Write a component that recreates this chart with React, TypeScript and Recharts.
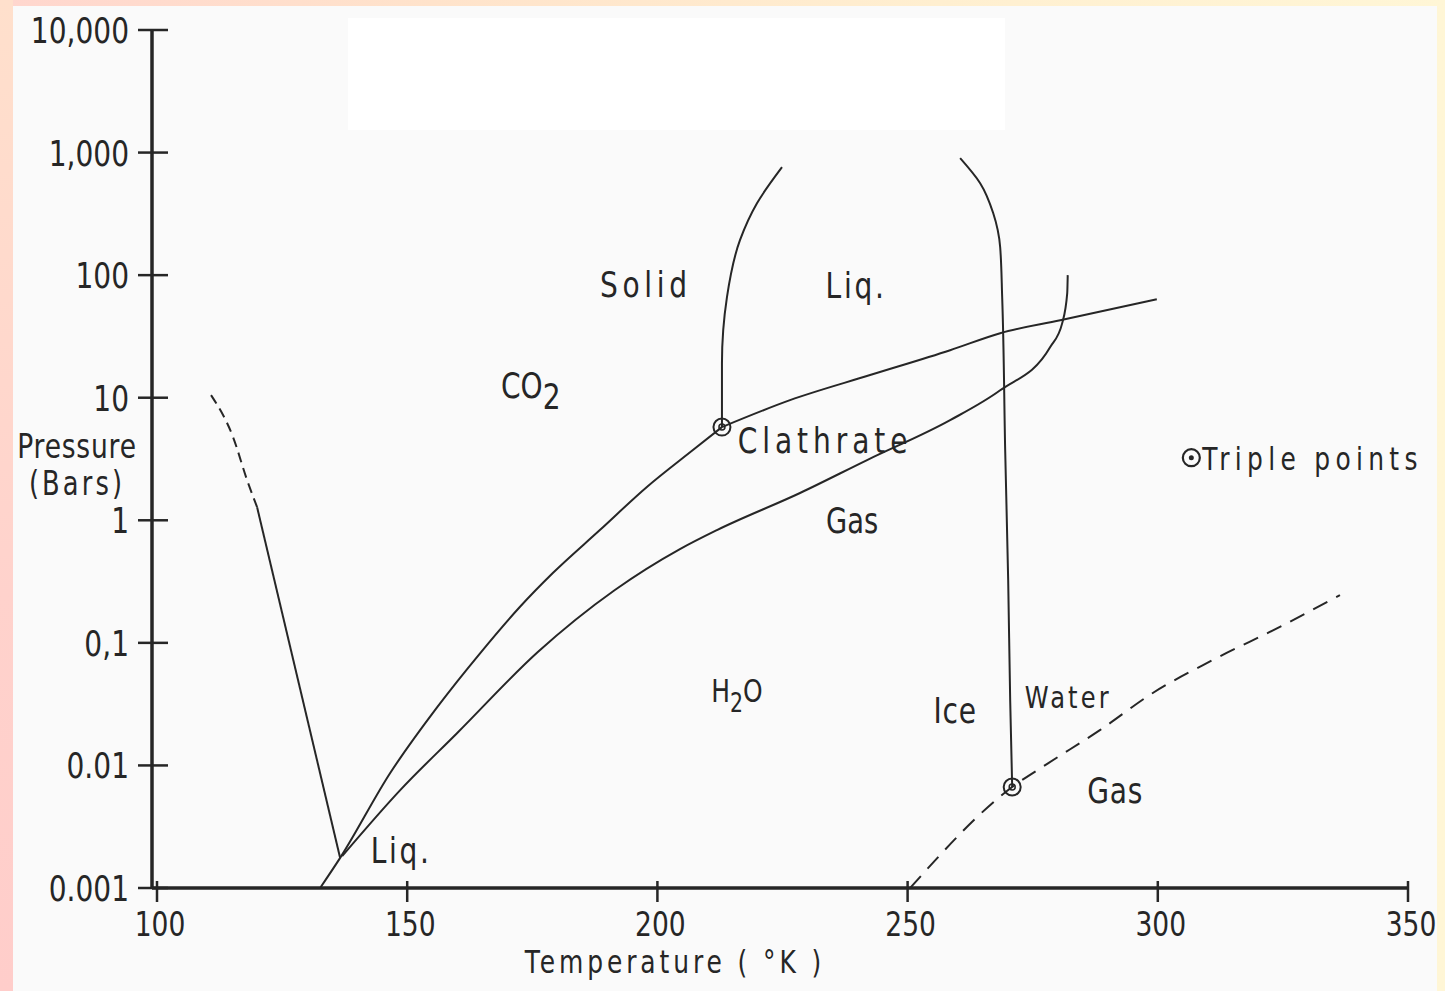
import React from 'react';
import { ComposedChart, Line, Scatter, XAxis, YAxis } from 'recharts';

const INK = '#262626';
const FONT = "'DejaVu Sans', 'Liberation Sans', sans-serif";
// the lettering is a tall, narrow plotter face; squeeze DejaVu horizontally
const SQUEEZE = 0.78;

// axis ticks: temperature in K, pressure in bar (log axis)
const tempTicks = [100, 150, 200, 250, 300, 350];
const pressureTicks = [0.001, 0.01, 0.1, 1, 10, 100, 1000, 10000];
const pressureTickLabels = ['0.001', '0.01', '0,1', '1', '10', '100', '1,000', '10,000'];

// CO2 solid/liquid line near 111-137 K, upper part extrapolated (dashed)
const co2MeltLowDashed = [
  { T: 110.8, P: 10.5 },
  { T: 115.2, P: 4.77 },
  { T: 118.0, P: 2.13 },
  { T: 120.0, P: 1.28 },
];
const co2MeltLow = [
  { T: 120.0, P: 1.28 },
  { T: 136.6, P: 0.00176 },
];

// CO2 solid/gas up to the clathrate triple point
const co2Sublimation = [
  { T: 132.6, P: 0.001 },
  { T: 136.6, P: 0.00176 },
  { T: 146.6, P: 0.00867 },
  { T: 156.0, P: 0.0299 },
  { T: 164.6, P: 0.0826 },
  { T: 172.5, P: 0.196 },
  { T: 179.1, P: 0.371 },
  { T: 188.5, P: 0.832 },
  { T: 197.9, P: 1.87 },
  { T: 207.1, P: 3.74 },
  { T: 212.9, P: 5.76 },
];

// CO2 solid/liquid above the clathrate triple point
const co2MeltHigh = [
  { T: 212.9, P: 5.76 },
  { T: 212.9, P: 19.1 },
  { T: 213.9, P: 66.2 },
  { T: 216.5, P: 193 },
  { T: 219.9, P: 386 },
  { T: 224.9, P: 760 },
];

// clathrate / CO2 boundary
const clathrateUpper = [
  { T: 212.9, P: 5.76 },
  { T: 226.5, P: 9.55 },
  { T: 242.5, P: 15.3 },
  { T: 258.5, P: 24.4 },
  { T: 268.5, P: 33.6 },
  { T: 280.5, P: 42.9 },
  { T: 299.8, P: 63.7 },
];

// clathrate dissociation (clathrate / gas + ice)
const clathrateLower = [
  { T: 137.0, P: 0.00182 },
  { T: 148.6, P: 0.00629 },
  { T: 160.0, P: 0.0184 },
  { T: 176.1, P: 0.0842 },
  { T: 191.5, P: 0.27 },
  { T: 204.5, P: 0.582 },
  { T: 211.9, P: 0.832 },
  { T: 228.5, P: 1.67 },
  { T: 241.9, P: 3.1 },
  { T: 258.5, P: 6.56 },
  { T: 268.5, P: 11.5 },
  { T: 278.5, P: 25.9 },
  { T: 280.9, P: 40.6 },
  { T: 281.9, P: 71.3 },
  { T: 282.0, P: 100 },
];

// H2O ice/water
const iceMelt = [
  { T: 260.5, P: 900 },
  { T: 264.5, P: 562 },
  { T: 267.1, P: 321 },
  { T: 268.5, P: 169 },
  { T: 268.9, P: 66.2 },
  { T: 269.5, P: 3.74 },
  { T: 270.1, P: 0.325 },
  { T: 270.5, P: 0.0341 },
  { T: 270.9, P: 0.00667 },
];

// H2O vapour pressure (dashed)
const waterVapour = [
  { T: 250.5, P: 0.001 },
  { T: 270.9, P: 0.00667 },
  { T: 277.9, P: 0.0103 },
  { T: 288.5, P: 0.0195 },
  { T: 299.0, P: 0.039 },
  { T: 311.0, P: 0.0725 },
  { T: 324.4, P: 0.135 },
  { T: 336.4, P: 0.245 },
];

const triplePoints = [
  { T: 212.9, P: 5.76 },
  { T: 270.9, P: 0.00667 },
];

const regionLabels = [
  { id: 'solid', T: 197.7, P: 84.5, text: 'Solid' },
  { id: 'liqCO2', T: 239.7, P: 82.8, text: 'Liq.' },
  { id: 'co2', T: 174.7, P: 12.7, text: 'CO', sub: '2' },
  { id: 'clathrate', T: 233.5, P: 4.51, text: 'Clathrate' },
  { id: 'gasCO2', T: 238.9, P: 1.0, text: 'Gas' },
  { id: 'h2o', T: 215.9, P: 0.0412, text: 'H', sub: '2', tail: 'O' },
  { id: 'ice', T: 259.5, P: 0.0283, text: 'Ice' },
  { id: 'water', T: 282.1, P: 0.0361, text: 'Water' },
  { id: 'gasH2O', T: 291.5, P: 0.0063, text: 'Gas' },
  { id: 'liqLow', T: 148.8, P: 0.00204, text: 'Liq.' },
];

const legendKey = [{ T: 306.7, P: 3.24, text: 'Triple points' }];

const LABEL_STYLE: Record<string, { size: number; spacing: number }> = {
  solid: { size: 36, spacing: 6 },
  liqCO2: { size: 36, spacing: 3.5 },
  co2: { size: 36, spacing: 0 },
  clathrate: { size: 36, spacing: 6.3 },
  gasCO2: { size: 35, spacing: 0 },
  h2o: { size: 32, spacing: 0 },
  ice: { size: 36, spacing: 1 },
  water: { size: 31, spacing: 4 },
  gasH2O: { size: 36, spacing: 1 },
  liqLow: { size: 36, spacing: 3.5 },
};

const NarrowText = ({ x, y, size = 36, spacing = 0, anchor = 'middle', children }: any) => (
  <g transform={`translate(${x},${y}) scale(${SQUEEZE},1)`}>
    <text
      x={0}
      y={0}
      textAnchor={anchor}
      fontFamily={FONT}
      fontSize={size}
      fill={INK}
      style={{ letterSpacing: `${spacing}px` }}
    >
      {children}
    </text>
  </g>
);

const XTick = ({ x, y, payload }: any) => (
  <g>
    <line x1={x} x2={x} y1={y - 7} y2={y + 14} stroke={INK} strokeWidth={2.5} />
    <NarrowText x={x + 3} y={y + 48} size={34}>
      {String(payload.value)}
    </NarrowText>
  </g>
);

const YTick = ({ x, y, payload }: any) => {
  const i = pressureTicks.findIndex(
    (t) => Math.abs(Math.log10(t) - Math.log10(payload.value)) < 1e-6
  );
  return (
    <g>
      <line x1={x - 14} x2={x + 16} y1={y} y2={y} stroke={INK} strokeWidth={2.5} />
      <NarrowText x={x - 23} y={y + 13} anchor="end">
        {i >= 0 ? pressureTickLabels[i] : ''}
      </NarrowText>
    </g>
  );
};

const TripleMark = ({ cx, cy }: any) => (
  <g>
    <circle cx={cx} cy={cy} r={8.5} fill="none" stroke={INK} strokeWidth={2} />
    <circle cx={cx} cy={cy} r={3} fill="none" stroke={INK} strokeWidth={1.5} />
  </g>
);

const RegionLabel = ({ cx, cy, payload }: any) => {
  const st = LABEL_STYLE[payload.id] || { size: 36, spacing: 0 };
  const half = st.size * 0.36;
  const subDy = payload.tail ? 10 : 11;
  return (
    <NarrowText x={cx} y={cy + half} size={st.size} spacing={st.spacing}>
      {payload.text}
      {payload.sub && (
        <tspan dy={subDy} fontSize={payload.tail ? st.size * 0.82 : st.size}>
          {payload.sub}
        </tspan>
      )}
      {payload.tail && <tspan dy={-subDy} fontSize={st.size}>{payload.tail}</tspan>}
    </NarrowText>
  );
};

const LegendKey = ({ cx, cy, payload }: any) => (
  <g>
    <circle cx={cx} cy={cy} r={8.5} fill="none" stroke={INK} strokeWidth={2.2} />
    <circle cx={cx} cy={cy} r={2.5} fill={INK} />
    <NarrowText x={cx + 11} y={cy + 12.5} size={32} spacing={6.8} anchor="start">
      {payload.text}
    </NarrowText>
  </g>
);

const YTitle = ({ viewBox }: any) => {
  const x = (viewBox?.x ?? 0) + 77;
  const top = viewBox?.y ?? 30;
  return (
    <g>
      <NarrowText x={x} y={top + 428} size={34} spacing={1}>Pressure</NarrowText>
      <NarrowText x={x} y={top + 465} size={33} spacing={4}>(Bars)</NarrowText>
    </g>
  );
};

const XTitle = ({ viewBox }: any) => {
  const x = (viewBox?.x ?? 152) + 523;
  const top = viewBox?.y ?? 888;
  return (
    <NarrowText x={x} y={top + 85} size={32} spacing={5}>
      Temperature ( °K )
    </NarrowText>
  );
};

const lineProps = {
  dataKey: 'P',
  stroke: INK,
  strokeWidth: 2,
  dot: false,
  activeDot: false,
  isAnimationActive: false,
  legendType: 'none' as const,
};

export default function App() {
  return (
    <div
      style={{
        position: 'absolute',
        left: 0,
        top: 0,
        width: 1445,
        height: 991,
        overflow: 'hidden',
        background: 'linear-gradient(90deg, #FFD6CE 0%, #FFE3CB 30%, #FFEFD0 65%, #FFF6D6 100%)',
      }}
    >
      <div
        style={{
          position: 'absolute',
          left: 0,
          top: 0,
          width: 13,
          height: 991,
          background: 'linear-gradient(180deg, #FFE0CC 0%, #FFD2CC 60%, #FFCDCA 100%)',
        }}
      />
      <div
        style={{
          position: 'absolute',
          left: 13,
          top: 6,
          width: 1424,
          height: 985,
          background: '#FAFAFA',
        }}
      />
      <div
        style={{
          position: 'absolute',
          left: 348,
          top: 18,
          width: 657,
          height: 112,
          background: '#FFFFFF',
        }}
      />
      <ComposedChart
        width={1445}
        height={991}
        margin={{ top: 30, right: 37, bottom: 0, left: 0 }}
        style={{ position: 'absolute', left: 0, top: 0 }}
      >
        <XAxis
          dataKey="T"
          type="number"
          domain={[99, 350]}
          ticks={tempTicks}
          height={103}
          tickLine={false}
          tickSize={0}
          tickMargin={0}
          tick={<XTick />}
          axisLine={{ stroke: INK, strokeWidth: 3.5 }}
          label={<XTitle />}
        />
        <YAxis
          dataKey="P"
          type="number"
          scale="log"
          domain={[0.001, 10000]}
          ticks={pressureTicks}
          width={152}
          tickLine={false}
          tickSize={0}
          tickMargin={0}
          tick={<YTick />}
          axisLine={{ stroke: INK, strokeWidth: 3.5 }}
          label={<YTitle />}
        />

        <Line {...lineProps} data={co2MeltLowDashed} type="monotone" strokeDasharray="10 6" />
        <Line {...lineProps} data={co2MeltLow} type="linear" />
        <Line {...lineProps} data={co2Sublimation} type="monotone" />
        <Line {...lineProps} data={co2MeltHigh} type="monotoneY" />
        <Line {...lineProps} data={clathrateUpper} type="monotone" />
        <Line {...lineProps} data={clathrateLower} type="monotone" />
        <Line {...lineProps} data={iceMelt} type="monotoneY" />
        <Line {...lineProps} data={waterVapour} type="monotone" strokeDasharray="16 10" />

        <Scatter data={triplePoints} shape={<TripleMark />} isAnimationActive={false} legendType="none" />
        <Scatter data={regionLabels} shape={<RegionLabel />} isAnimationActive={false} legendType="none" />
        <Scatter data={legendKey} shape={<LegendKey />} isAnimationActive={false} legendType="none" />
      </ComposedChart>
    </div>
  );
}
